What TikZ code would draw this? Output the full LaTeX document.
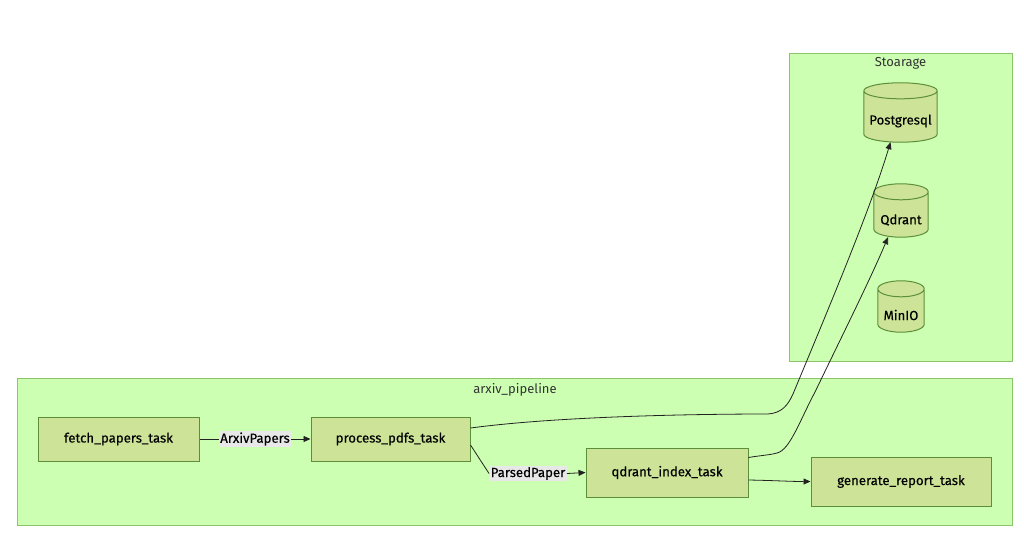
\documentclass[tikz,border=0pt]{standalone}
\usepackage{fontspec}
\setmainfont{Fira Sans}[FakeBold=0.35]
\newfontfamily\titlefont{Fira Sans}
\usetikzlibrary{arrows.meta,calc}
\definecolor{clfill}{HTML}{CDFFB2}
\definecolor{clline}{HTML}{8CC46C}
\definecolor{ndfill}{HTML}{CDE498}
\definecolor{ndline}{HTML}{5B8F3A}
\definecolor{lblbg}{HTML}{E8E8E8}
\definecolor{edgec}{HTML}{222222}
\definecolor{titlec}{HTML}{333333}
\tikzset{
  cluster/.style={draw=clline, fill=clfill, line width=0.8pt},
  taskbox/.style={draw=ndline, fill=ndfill, line width=1pt, inner sep=0pt, font=\fontsize{13.2}{15}\selectfont, text=black},
  dbnode/.style={inner sep=0pt, font=\fontsize{13.2}{15}\selectfont, text=black},
  elabel/.style={fill=lblbg, inner sep=1.5pt, font=\fontsize{13.2}{15}\selectfont, text=black},
  ctitle/.style={font=\titlefont\fontsize{13}{15}\selectfont, text=titlec},
  edge/.style={draw=edgec, line width=0.8pt, -{Triangle[length=7pt,width=6pt]}},
  plain/.style={draw=edgec, line width=0.8pt},
}
\newcommand{\dbcyl}[1]{%
  \path let \p1=(#1.north west), \p2=(#1.south east), \n1={(\x2-\x1)/2} in
    [fill=ndfill, draw=ndline, line width=1pt]
    (\x1,\y1-8pt) -- (\x1,\y2+8pt)
    arc[start angle=180, end angle=360, x radius=\n1, y radius=8pt]
    -- (\x2,\y1-8pt)
    arc[start angle=0, end angle=180, x radius=\n1, y radius=8pt] -- cycle
    (\x1,\y1-8pt) arc[start angle=180, end angle=360, x radius=\n1, y radius=8pt];
}
\begin{document}
\begin{tikzpicture}[x=1pt,y=-1pt]
\useasboundingbox (0,0) rectangle (1024,533);
\fill[white] (0,0) rectangle (1024,533);
% clusters
\path[cluster] (789.5,53.5) rectangle (1012,361.5);
\node[ctitle] (tstore) at (900.5,63.5) {Stoarage};
\path[cluster] (17.5,378.5) rectangle (1012,525);
\node[ctitle] (tpipe) at (515,389.5) {arxiv\_pipeline};
% databases
\node[dbnode, minimum width=73pt, minimum height=59pt] (pg) at (900.5,112.5) {};
\node[dbnode, minimum width=54pt, minimum height=53pt] (qd) at (901,210.5) {};
\node[dbnode, minimum width=46pt, minimum height=51pt] (mi) at (901,306.5) {};
\dbcyl{pg}\dbcyl{qd}\dbcyl{mi}
\node[dbnode] (pgt) at (900.5,121) {Postgresql};
\node[dbnode] (qdt) at (901,220) {Qdrant};
\node[dbnode] (mit) at (901,315) {MinIO};
% tasks
\node[taskbox, minimum width=161pt, minimum height=44pt] (fp) at (118.5,439) {fetch\_papers\_task};
\node[taskbox, minimum width=159pt, minimum height=44pt] (pp) at (390.5,439) {process\_pdfs\_task};
\node[taskbox, minimum width=162pt, minimum height=49pt] (qi) at (667,472.5) {qdrant\_index\_task};
\node[taskbox, minimum width=180pt, minimum height=49pt] (gr) at (901,481.5) {generate\_report\_task};
% edge labels
\node[elabel] (l1) at (255,439) {ArxivPapers};
\node[elabel] (l2) at (528,473.5) {ParsedPaper};
% edges
\draw[plain] (fp.east) -- (l1.west);
\draw[edge] (l1.east) -- (pp.west);
\draw[plain] ([yshift=-6pt]pp.east) -- (l2.west);
\draw[edge] (l2.east) -- (qi.west);
\coordinate (c1) at (768,414);
\draw[edge] ([yshift=11pt]pp.east) .. controls (560,416) and (700,414) .. (c1)
  .. controls (782,413) and (788,405) .. (793,394)
  .. controls (830,305) and (870,210) .. ([xshift=-10pt]pg.south);
\coordinate (c2) at (777,453);
\draw[edge] ([yshift=15pt]qi.east) .. controls (760,455.5) and (770,455) .. (c2)
  .. controls (790,450) and (800,420) .. (815,392)
  .. controls (840,340) and (870,280) .. ([xshift=-13pt]qd.south);
\draw[edge] ([yshift=-7.5pt]qi.east) .. controls (775,480.5) and (790,481.5) .. (gr.west);
\end{tikzpicture}
\end{document}
